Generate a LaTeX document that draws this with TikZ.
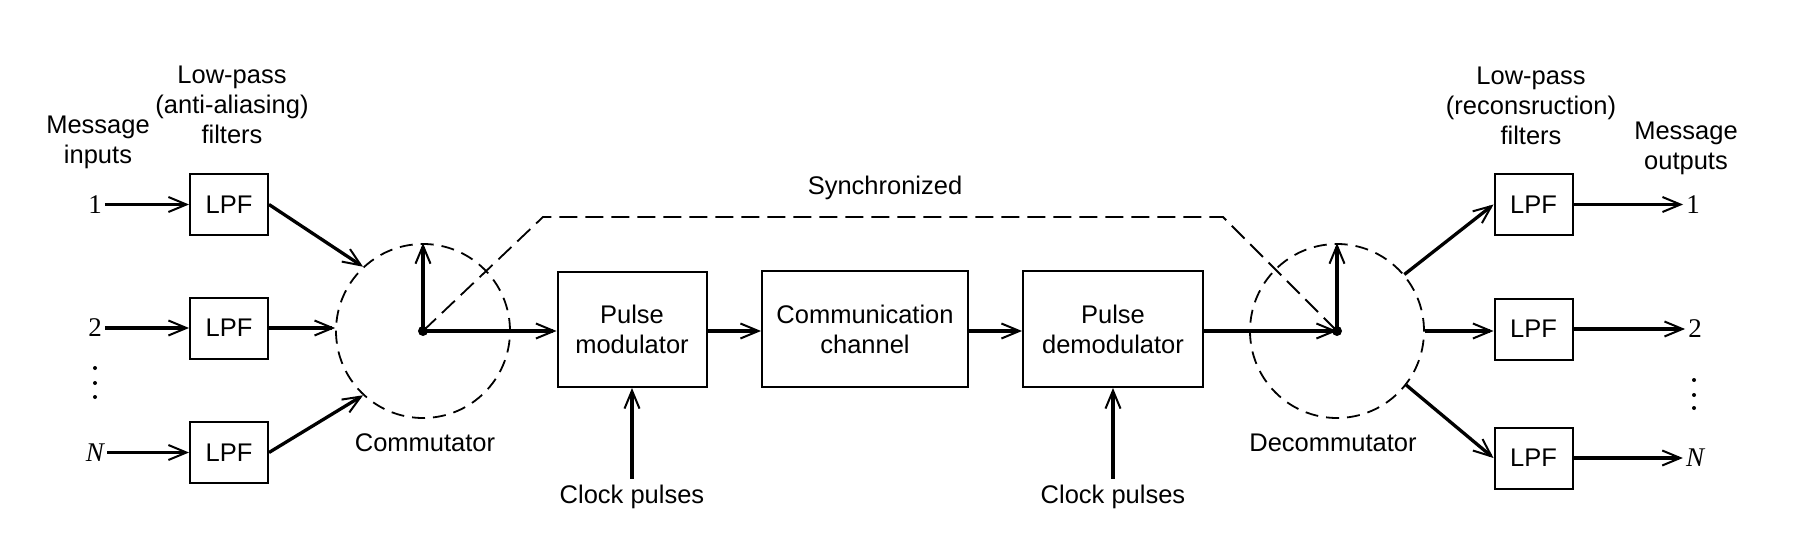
\documentclass[tikz,border=0pt]{standalone}
\usepackage{fontspec}
\setmainfont{Liberation Sans}
\newfontfamily\numfont{Liberation Serif}
\usetikzlibrary{arrows.meta}
\tikzset{
  txt/.style={font=\fontsize{25.5pt}{30pt}\selectfont, align=center, inner sep=2pt},
  num/.style={font=\numfont\fontsize{27pt}{30pt}\selectfont, inner sep=3pt},
  box/.style={draw, line width=2pt, font=\fontsize{25.5pt}{30pt}\selectfont, align=center, inner sep=0pt},
  lpf/.style={box, minimum width=78pt, minimum height=61pt},
  sw/.style={circle, draw, line width=1.8pt, dash pattern=on 13pt off 8pt, minimum size=174pt, inner sep=0pt},
  sig/.style={line width=3.3pt, -{Straight Barb[length=18pt,width=15pt,line width=2pt]}},
  sync/.style={line width=1.8pt, dash pattern=on 18pt off 8pt},
  dotmark/.style={circle, fill, inner sep=0pt, minimum size=4pt},
}
\begin{document}
\begin{tikzpicture}[x=1pt, y=-1pt]
\useasboundingbox (0,0) rectangle (1818,540);

% headings
\node[txt] (lpinhead) at (232,105) {Low-pass\\(anti-aliasing)\\filters};
\node[txt] (msgin) at (98,142) {Message\\inputs};
\node[txt] (lpouthead) at (1531,106) {Low-pass\\(reconsruction)\\filters};
\node[txt] (msgout) at (1686,148) {Message\\outputs};
\node[txt] (synclbl) at (885,188) {Synchronized};

% inputs
\node[num] (in1) at (95,204.5) {1};
\node[num] (in2) at (95,328) {2};
\node[num] (inN) at (95,452.5) {\itshape N};
\node[dotmark] (ld1) at (95,368) {};
\node[dotmark] (ld2) at (95,383) {};
\node[dotmark] (ld3) at (95,397) {};

% input filters
\node[lpf] (lpf1) at (229,204.5) {LPF};
\node[lpf] (lpf2) at (229,328) {LPF};
\node[lpf] (lpfN) at (229,452.5) {LPF};

% commutator
\node[sw] (comm) at (423,331) {};
\node[txt] (commlbl) at (425,443) {Commutator};

% main chain
\node[box, minimum width=149pt, minimum height=115pt] (pm) at (632,329.5) {Pulse\\modulator};
\node[box, minimum width=206pt, minimum height=116pt] (ch) at (865,329) {Communication\\channel};
\node[box, minimum width=180pt, minimum height=116pt] (pd) at (1113,329) {Pulse\\demodulator};
\node[txt] (clk1) at (632,497) {Clock pulses};
\node[txt] (clk2) at (1113,497) {Clock pulses};

% decommutator
\node[sw] (dec) at (1337,331) {};
\node[txt] (declbl) at (1333,443) {Decommutator};

% output filters
\node[lpf] (rpf1) at (1533.5,204.5) {LPF};
\node[lpf] (rpf2) at (1533.5,329) {LPF};
\node[lpf] (rpfN) at (1533.5,458) {LPF};
\node[num] (out1) at (1693,204.5) {1};
\node[num] (out2) at (1695,329) {2};
\node[num] (outN) at (1695,458) {\itshape N};
\node[dotmark] (rd1) at (1694,380) {};
\node[dotmark] (rd2) at (1694,395) {};
\node[dotmark] (rd3) at (1694,408) {};

% input connectors
\draw[sig] (in1.east) -- (lpf1.west);
\draw[sig] (in2.east) -- (lpf2.west);
\draw[sig] (inN.east) -- (lpfN.west);
\draw[sig] (lpf1.east) -- (comm.133);
\draw[sig] (lpf2.east) -- (lpf2.east -| comm.west);
\draw[sig] (lpfN.east) -- (comm.227);

% commutator arm
\fill (comm.center) circle (5pt);
\draw[sig] (comm.center) -- (comm.north);
\draw[sig] (comm.center) -- (comm.center -| pm.west);

% chain
\draw[sig] (pm.east |- comm.center) -- (ch.west |- comm.center);
\draw[sig] (ch.east |- comm.center) -- (pd.west |- comm.center);
\draw[sig] (pd.east |- dec.center) -- (dec.center);
\draw[sig, shorten <=4pt] (clk1.north) -- (pm.south);
\draw[sig, shorten <=4pt] (clk2.north) -- (pd.south);

% synchronization
\coordinate (s1) at (543,217);
\coordinate (s2) at (1223,217);
\draw[sync] (comm.center) -- (s1) -- (s2) -- (dec.center);

% decommutator arm
\fill (dec.center) circle (5pt);
\draw[sig] (dec.center) -- (dec.north);
\draw[sig] (dec.40) -- (rpf1.west);
\draw[sig] (dec.east) -- (dec.east -| rpf2.west);
\draw[sig] (dec.-38) -- (rpfN.west);

% outputs
\draw[sig] (rpf1.east) -- (out1.west);
\draw[sig] (rpf2.east) -- (out2.west);
\draw[sig] (rpfN.east) -- (outN.west);
\end{tikzpicture}
\end{document}
